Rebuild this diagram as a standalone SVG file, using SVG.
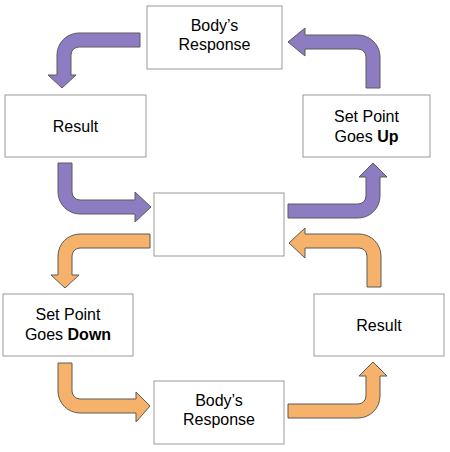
<svg xmlns="http://www.w3.org/2000/svg" width="450" height="452" viewBox="0 0 450 452">
<style>
.box{fill:#fff;stroke:#9a9a9a;stroke-width:1}
.t{font-family:"Liberation Sans",Arial,sans-serif;font-size:16px;fill:#000;text-anchor:middle}
.b{font-weight:bold}
.p{fill:#8e7cc3;stroke:#5a5a5a;stroke-width:1;stroke-linejoin:miter}
.o{fill:#f6b26b;stroke:#5a5a5a;stroke-width:1;stroke-linejoin:miter}
</style>
<rect width="450" height="452" fill="#fff"/>
<g id="connectors">
<path class="p" d="M140,33 L79,33 A22,22 0 0 0 57,55 L57,75 L48,75 L62,88 L76,75 L71,75 L71,55 A8,8 0 0 1 79,47 L140,47 Z"/>
<path class="p" d="M58,163 L58,192 A22,22 0 0 0 80,214 L135,214 L135,222 L151,207 L135,192 L135,200 L80,200 A8,8 0 0 1 72,192 L72,163 Z"/>
<path class="p" d="M380,88 L380,57 A22,22 0 0 0 358,35 L305,35 L305,28 L288,42 L305,56 L305,49 L358,49 A8,8 0 0 1 366,57 L366,88 Z"/>
<path class="p" d="M288,204 L358,204 A8,8 0 0 0 366,196 L366,177 L359,177 L373,163 L387,177 L380,177 L380,196 A22,22 0 0 1 358,218 L288,218 Z"/>
<path class="o" d="M150,234 L80,234 A22,22 0 0 0 58,256 L58,275 L51,275 L65,288 L79,275 L72,275 L72,256 A8,8 0 0 1 80,248 L150,248 Z"/>
<path class="o" d="M58,363 L58,391 A22,22 0 0 0 80,413 L136,413 L136,422 L150,406 L136,392 L136,399 L80,399 A8,8 0 0 1 72,391 L72,363 Z"/>
<path class="o" d="M381,287 L381,256 A22,22 0 0 0 359,234 L305,234 L305,228 L289,243 L305,258 L305,248 L359,248 A8,8 0 0 1 367,256 L367,287 Z"/>
<path class="o" d="M288,404 L358,404 A8,8 0 0 0 366,396 L366,376 L359,376 L373,362 L387,376 L380,376 L380,396 A22,22 0 0 1 358,418 L288,418 Z"/>
</g>
<g id="body-response-top"><rect class="box" x="147" y="6" width="135" height="63"/><text class="t" x="214.5" y="31">Body’s</text><text class="t" x="214.5" y="50">Response</text></g>
<g id="result-left"><rect class="box" x="5" y="95" width="141" height="62"/><text class="t" x="75.5" y="131.5">Result</text></g>
<g id="set-point-up"><rect class="box" x="303" y="95" width="127" height="62"/><text class="t" x="366.5" y="122">Set Point</text><text class="t" x="366.5" y="142">Goes <tspan class="b">Up</tspan></text></g>
<g id="center"><rect class="box" x="154" y="193" width="130" height="63"/></g>
<g id="set-point-down"><rect class="box" x="3" y="294" width="130" height="62"/><text class="t" x="68" y="320">Set Point</text><text class="t" x="68" y="340">Goes <tspan class="b">Down</tspan></text></g>
<g id="result-right"><rect class="box" x="314" y="294" width="130" height="62"/><text class="t" x="379" y="330.5">Result</text></g>
<g id="body-response-bottom"><rect class="box" x="154" y="381" width="130" height="63"/><text class="t" x="219" y="406">Body’s</text><text class="t" x="219" y="425">Response</text></g>
</svg>
